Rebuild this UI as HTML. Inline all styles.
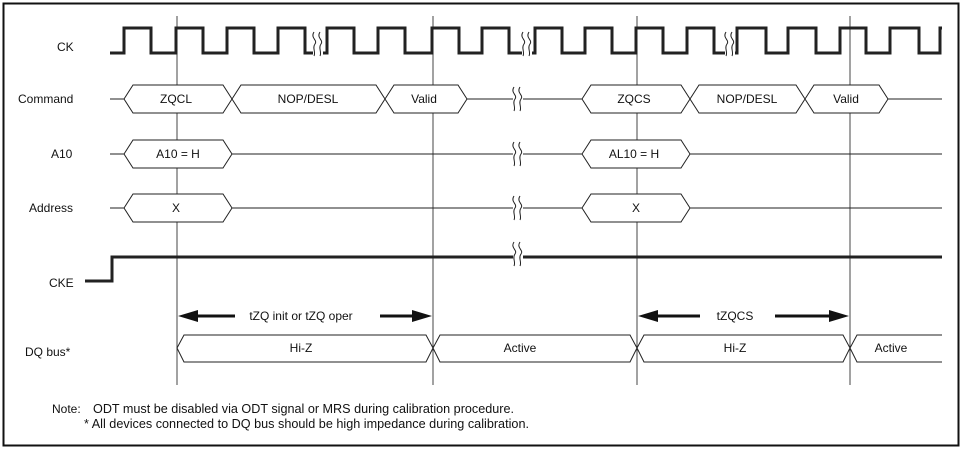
<!DOCTYPE html>
<html><head><meta charset="utf-8"><style>
body{margin:0;background:#fff}
svg{display:block}
text{font-family:"Liberation Sans",sans-serif;font-size:12px;fill:#111}
</style></head><body>
<svg width="964" height="453" viewBox="0 0 964 453">
<defs>
<g id="brk"><rect x="-5" y="-12" width="10" height="24" fill="#fff"/><path d="M-4 -12 C-8 -6 0 -4 -3 0 C-6 4 -2 8 -4 12 M2 -12 C-2 -6 6 -4 3 0 C0 4 4 8 2 12" fill="none" stroke="#222" stroke-width="1"/></g>
</defs>
<rect x="3.5" y="3.5" width="955" height="442" fill="none" stroke="#111" stroke-width="2"/>
<g stroke="#444" stroke-width="1">
<line x1="177" y1="16" x2="177" y2="385"/><line x1="433" y1="16" x2="433" y2="385"/>
<line x1="637" y1="16" x2="637" y2="385"/><line x1="850" y1="16" x2="850" y2="385"/>
</g>
<path d="M110 53 H124 V28 H151 V53 H176 V28 H203 V53 H227 V28 H254 V53 H278 V28 H305 V53 H327 V28 H354 V53 H378 V28 H405 V53 H432 V28 H459 V53 H482 V28 H509 V53 H535 V28 H562 V53 H585 V28 H612 V53 H636 V28 H663 V53 H687 V28 H714 V53 H737 V28 H766 V53 H788 V28 H816 V53 H840 V28 H866 V53 H890 V28 H919 V53 H940 V28 H942" fill="none" stroke="#222" stroke-width="3"/>
<use href="#brk" x="318" y="44"/><use href="#brk" x="527" y="44"/><use href="#brk" x="730" y="44"/>
<g fill="#fff" stroke="#222" stroke-width="1">
<line x1="110" y1="99" x2="124" y2="99"/><line x1="467" y1="99" x2="582" y2="99"/><line x1="888" y1="99" x2="942" y2="99"/>
<polygon points="124,99 133,85 223,85 232,99 223,113 133,113"/>
<polygon points="232,99 241,85 376,85 385,99 376,113 241,113"/>
<polygon points="385,99 394,85 458,85 467,99 458,113 394,113"/>
<polygon points="582,99 591,85 681,85 690,99 681,113 591,113"/>
<polygon points="690,99 699,85 796,85 805,99 796,113 699,113"/>
<polygon points="805,99 814,85 879,85 888,99 879,113 814,113"/>
<line x1="110" y1="154" x2="124" y2="154"/><line x1="232" y1="154" x2="582" y2="154"/><line x1="690" y1="154" x2="942" y2="154"/>
<polygon points="124,154 133,140 223,140 232,154 223,168 133,168"/>
<polygon points="582,154 591,140 681,140 690,154 681,168 591,168"/>
<line x1="110" y1="208" x2="124" y2="208"/><line x1="232" y1="208" x2="582" y2="208"/><line x1="690" y1="208" x2="942" y2="208"/>
<polygon points="124,208 133,194 223,194 232,208 223,222 133,222"/>
<polygon points="582,208 591,194 681,194 690,208 681,222 591,222"/>
<polygon points="177,348 184,335 426,335 433,348 426,362 184,362"/>
<polygon points="433,348 440,335 630,335 637,348 630,362 440,362"/>
<polygon points="637,348 644,335 843,335 850,348 843,362 644,362"/>
<path d="M942 335 H857 L850 348 L857 362 H942"/>
</g>
<path d="M85 281 H112 V257 H942" fill="none" stroke="#222" stroke-width="3"/>
<use href="#brk" x="518" y="99"/><use href="#brk" x="518" y="154"/><use href="#brk" x="518" y="208"/><use href="#brk" x="518" y="254"/>
<g stroke="#111" stroke-width="3"><line x1="195" y1="316" x2="235" y2="316"/><line x1="380" y1="316" x2="415" y2="316"/>
<line x1="655" y1="316" x2="700" y2="316"/><line x1="775" y1="316" x2="832" y2="316"/></g>
<g fill="#111"><polygon points="178,316 198,310 198,322"/><polygon points="432,316 412,310 412,322"/>
<polygon points="638,316 658,310 658,322"/><polygon points="849,316 829,310 829,322"/></g>
<text x="57" y="51">CK</text><text x="18" y="103">Command</text><text x="51" y="158">A10</text>
<text x="29" y="212">Address</text><text x="49" y="287">CKE</text><text x="25" y="356">DQ bus*</text>
<g text-anchor="middle">
<text x="176" y="103">ZQCL</text><text x="308" y="103">NOP/DESL</text><text x="424" y="103">Valid</text>
<text x="634" y="103">ZQCS</text><text x="747" y="103">NOP/DESL</text><text x="846" y="103">Valid</text>
<text x="178" y="158">A10 = H</text><text x="634" y="158">AL10 = H</text>
<text x="176" y="212">X</text><text x="636" y="212">X</text>
<text x="301" y="320">tZQ init or tZQ oper</text><text x="735" y="320">tZQCS</text>
<text x="301" y="352">Hi-Z</text><text x="520" y="352">Active</text><text x="735" y="352">Hi-Z</text><text x="891" y="352">Active</text>
</g>
<text x="52" y="413">Note:</text>
<text x="93" y="413" textLength="421" lengthAdjust="spacingAndGlyphs" style="font-size:12.6px">ODT must be disabled via ODT signal or MRS during calibration procedure.</text>
<text x="84" y="428" textLength="445" lengthAdjust="spacingAndGlyphs" style="font-size:12.6px">* All devices connected to DQ bus should be high impedance during calibration.</text>
</svg>
</body></html>
